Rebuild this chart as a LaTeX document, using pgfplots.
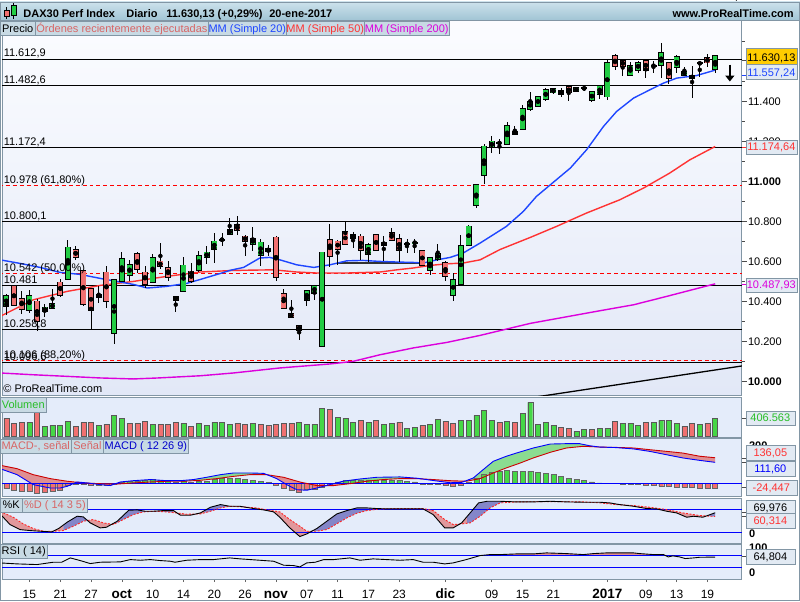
\documentclass[border=0pt]{standalone}
\usepackage{pgfplots}
\usepackage{pgfplotstable}
\pgfplotsset{compat=1.18}
\usepgfplotslibrary{fillbetween}
\usetikzlibrary{arrows.meta}
\usepackage{fontspec}
\setmainfont{Liberation Sans}

\definecolor{cgreen}{RGB}{34,204,68}
\definecolor{cred}{RGB}{240,112,112}
\definecolor{vgreen}{RGB}{70,215,70}
\definecolor{vred}{RGB}{240,112,112}
\definecolor{ma20}{RGB}{30,70,255}
\definecolor{ma50}{RGB}{255,50,50}
\definecolor{ma200}{RGB}{220,0,220}
\definecolor{bgtop}{RGB}{251,252,255}
\definecolor{bgbot}{RGB}{226,232,247}
\definecolor{pbg}{RGB}{228,236,250}
\definecolor{frame}{RGB}{130,150,165}
\definecolor{legbg}{RGB}{200,218,228}
\definecolor{titletop}{RGB}{205,226,236}
\definecolor{titlebot}{RGB}{160,196,212}
\definecolor{boxbg}{RGB}{226,234,243}
\definecolor{gold}{RGB}{255,204,0}
\definecolor{vtxt}{RGB}{40,190,40}
\definecolor{mfillg}{RGB}{110,215,110}
\definecolor{mfillr}{RGB}{222,112,112}
\definecolor{sfillb}{RGB}{100,100,185}
\definecolor{sfillr}{RGB}{225,125,125}
\newcommand\fs{\fontsize{11}{13}\selectfont}

\pgfplotstableread{
k O H L C
-92 10378 10437 10333 10428
-89 10358 10458 10342 10428
-87 10350 10387 10320 10370
-86 10367 10463 10365 10388
-84 10512 10705 10508 10670
-80 10422 10475 10392 10433
-78 10242 10512 10187 10508
-77 10500 10645 10495 10612
-76 10533 10608 10500 10583
-73 10495 10637 10490 10617
-69 10450 10622 10447 10580
-67 10555 10653 10548 10628
-66 10622 10675 10587 10645
-65 10663 10742 10592 10700
-64 10708 10742 10675 10710
-63 10738 10817 10738 10758
-60 10688 10770 10650 10713
-59 10633 10713 10575 10695
-58 10653 10683 10625 10663
-53 10408 10453 10378 10453
-52 10442 10483 10405 10478
-51 10178 10648 10172 10645
-47 10717 10745 10667 10733
-45 10638 10692 10595 10683
-40 10687 10712 10642 10688
-39 10693 10712 10642 10695
-37 10558 10620 10533 10617
-36 10612 10688 10600 10638
-34 10433 10542 10400 10508
-33 10488 10730 10488 10678
-32 10683 10783 10675 10775
-31 10883 10983 10867 10983
-30 11033 11188 10987 11175
-29 11170 11230 11142 11200
-28 11190 11212 11138 11195
-27 11188 11300 11188 11278
-25 11263 11383 11263 11363
-24 11363 11450 11353 11400
-23 11378 11425 11375 11422
-22 11413 11470 11405 11458
-21 11445 11467 11437 11463
-20 11438 11467 11425 11455
-18 11453 11472 11447 11467
-17 11465 11475 11455 11467
-16 11408 11455 11397 11447
-15 11438 11480 11412 11478
-14 11425 11612 11408 11592
-11 11533 11600 11533 11578
-10 11558 11605 11545 11595
-8 11578 11605 11542 11580
-7 11583 11692 11517 11645
-5 11572 11633 11545 11622
-4 11533 11575 11533 11550
-3 11518 11578 11417 11528
-2 11590 11592 11525 11592
0 11563 11628 11542 11630
}\upcandles

\pgfplotstableread{
k O H L C
-91 10475 10478 10375 10383
-90 10412 10450 10337 10363
-88 10400 10413 10253 10300
-85 10495 10513 10420 10433
-83 10658 10675 10608 10622
-82 10553 10558 10375 10387
-81 10463 10463 10263 10358
-79 10545 10575 10367 10403
-75 10638 10645 10542 10562
-74 10545 10575 10467 10488
-72 10600 10692 10563 10575
-71 10567 10600 10500 10520
-70 10423 10423 10345 10408
-68 10550 10592 10492 10500
-62 10783 10825 10733 10755
-61 10725 10733 10628 10703
-57 10720 10728 10503 10522
-56 10438 10462 10365 10367
-55 10338 10405 10322 10322
-54 10278 10283 10208 10255
-50 10708 10788 10570 10628
-49 10700 10708 10580 10663
-48 10747 10797 10688 10688
-46 10725 10737 10608 10658
-44 10733 10737 10650 10658
-43 10695 10725 10600 10683
-42 10743 10767 10703 10708
-41 10713 10738 10595 10658
-38 10653 10653 10580 10583
-35 10592 10600 10500 10528
-26 11250 11278 11230 11238
-19 11472 11483 11403 11445
-13 11628 11637 11558 11578
-12 11605 11612 11528 11578
-9 11605 11605 11517 11558
-6 11592 11592 11488 11517
-1 11617 11638 11575 11595
}\downcandles

\pgfplotstableread{
k v c
-92 406000 0
-91 289000 0
-90 311000 0
-89 311000 1
-88 533000 0
-87 222000 1
-86 244000 1
-85 244000 1
-84 333000 1
-83 222000 0
-82 311000 0
-81 311000 0
-80 244000 1
-79 266000 0
-78 466000 1
-77 400000 1
-76 289000 0
-75 289000 0
-74 333000 0
-73 266000 1
-72 259000 0
-71 266000 0
-70 311000 0
-69 289000 1
-68 222000 0
-67 289000 1
-66 244000 1
-65 311000 1
-64 311000 1
-63 266000 1
-62 289000 0
-61 266000 0
-60 289000 1
-59 259000 0
-58 244000 0
-57 266000 0
-56 289000 0
-55 289000 0
-54 311000 1
-53 266000 1
-52 266000 1
-51 622000 1
-50 592000 0
-49 422000 1
-48 400000 1
-47 311000 1
-46 355000 0
-45 311000 1
-44 355000 0
-43 266000 1
-42 289000 1
-41 311000 0
-40 178000 1
-39 200000 1
-38 244000 0
-37 259000 1
-36 370000 1
-35 333000 0
-34 289000 0
-33 355000 1
-32 355000 1
-31 466000 1
-30 577000 1
-29 355000 1
-28 311000 0
-27 333000 1
-26 311000 0
-25 511000 1
-24 755000 1
-23 266000 1
-22 311000 1
-21 244000 1
-20 200000 0
-19 178000 0
-18 111000 1
-17 155000 1
-16 155000 0
-15 178000 1
-14 178000 1
-13 333000 0
-12 289000 1
-11 289000 1
-10 244000 1
-9 311000 0
-8 311000 1
-7 355000 1
-6 355000 1
-5 289000 1
-4 222000 0
-3 289000 0
-2 266000 1
-1 289000 0
0 406563 1
}\volumes

\pgfplotstableread{
k h
-92 -28
-91 -39
-90 -43
-89 -43
-88 -53
-87 -48
-86 -43
-85 -39
-84 -12
-83 -7
-82 -7
-81 -11
-80 -12
-79 -12
-78 -5
-77 3.5
-76 11
-75 11
-74 14
-73 20
-72 14
-71 11
-70 3.5
-69 11
-68 3.5
-67 9
-66 12
-65 20
-64 25
-63 25
-62 25
-61 20
-60 14
-59 11
-58 5
-57 -12
-56 -28
-55 -39
-54 -48
-53 -34
-52 -34
-51 -21
-50 -12
-49 7
-48 14
-47 18
-46 16
-45 16
-44 18
-43 16
-42 14
-41 16
-40 11
-39 7
-38 -3.5
-37 -7
-36 -7
-35 -11
-34 -16
-33 -12
-32 3.5
-31 25
-30 46
-29 58
-28 64
-27 69
-26 64
-25 64
-24 64
-23 58
-22 53
-21 46
-20 37
-19 28
-18 21
-17 14
-16 7
-15 2
-14 0.5
-13 -2
-12 -3.5
-11 -5
-10 -7
-9 -9
-8 -12
-7 -14
-6 -18
-5 -20
-4 -21
-3 -23
-2 -25
-1 -25
0 -24.447
}\histo

\pgfplotstableread{
k v
-92.8 96
-90.6 78
-88.5 46
-86.3 25
-84.1 11
-82.0 2
-79.8 -2
-77.6 -4
-75.5 2
-73.3 7
-71.2 11
-69.0 11
-66.8 16
-64.7 25
-62.5 37
-60.4 46
-58.2 46
-56.0 32
-53.9 7
-51.7 -12
-49.5 -12
-47.4 -2
-45.2 11
-43.1 20
-40.9 25
-38.7 25
-36.6 20
-34.4 14
-32.3 11
-30.5 25
-28.8 55
-27.1 82
-25.3 108
-23.6 135
-21.4 165
-19.3 188
-17.1 197
-15.0 193
-12.8 191
-10.6 188
-8.5 179
-6.3 170
-4.2 161
-2.0 144
0 136.05
}\sigtab

\pgfplotstableread{
k v
-92.8 78
-90.6 46
-88.5 -7
-86.3 -25
-85.0 -25
-84.1 -16
-82.8 7
-81.5 2
-79.8 -7
-78.5 -12
-77.2 7
-75.5 14
-73.3 20
-71.2 14
-69.4 14
-67.7 20
-66.0 32
-64.2 46
-62.5 55
-60.4 55
-58.6 53
-56.9 25
-55.6 -7
-54.3 -34
-53.0 -37
-51.7 -25
-50.0 -7
-48.3 11
-46.1 23
-43.9 32
-40.9 34
-38.7 27
-36.6 15
-34.4 3
-32.9 5
-31.4 28
-30.1 73
-28.8 117
-27.1 144
-25.8 161
-23.6 188
-21.4 209
-19.3 211
-17.6 211
-16.3 200
-15.0 193
-12.8 190
-10.6 183
-8.5 170
-6.3 152
-4.2 135
-2.0 122
0 111.6
}\macdtab

\pgfplotstableread{
k v
-92.8 74
-91.1 58.3
-89.8 40.9
-88.5 28.8
-87.2 21.8
-85.9 21.8
-84.6 23.5
-83.3 34.8
-82.0 47.9
-80.7 52.3
-79.4 43.6
-78.1 39.2
-76.8 52.3
-75.5 65.3
-74.2 72.3
-72.9 74
-71.2 72.3
-69.9 69.6
-68.6 66.2
-66.8 67
-65.5 74
-64.2 82.7
-63.0 87
-61.2 85.3
-59.5 82.7
-58.2 77.5
-56.5 72.3
-55.2 52.3
-53.9 34.8
-53.0 21.8
-51.7 21.8
-50.4 26.2
-49.5 36.6
-47.8 56.6
-46.5 68.8
-45.2 75.7
-43.5 80.1
-40.9 81
-37.9 81
-36.6 75.7
-35.1 52.3
-34.0 39.2
-32.9 40.9
-31.8 43.6
-30.5 61
-29.2 82.7
-27.9 95.8
-25.8 98.4
-21.4 99.2
-17.1 98.4
-15.0 95.8
-12.8 91.4
-10.6 88.8
-8.5 84.4
-6.3 78.3
-4.2 69.6
-2.0 62.7
0 60.3
}\dtab

\pgfplotstableread{
k v
-92.8 67
-91.5 39
-90.2 26
-88.9 23.5
-87.6 21.8
-86.1 20
-85.2 28.8
-84.1 45.3
-82.8 61
-82.0 59.2
-81.1 43.6
-79.8 30.5
-79.0 32.2
-77.6 47.9
-76.1 76.6
-75.0 77.5
-74.0 74
-72.9 74
-71.6 75.7
-70.3 75.7
-69.4 63.6
-68.1 63.6
-66.8 69.6
-65.5 84.4
-64.2 91.4
-63.0 87
-61.7 87
-59.9 81
-58.6 77.5
-57.3 72.3
-56.5 58.3
-55.2 30.5
-53.9 7.9
-53.0 14.8
-51.7 28.8
-50.4 47.9
-49.1 67
-47.8 75.7
-46.5 82.7
-45.2 82.7
-43.9 81
-42.6 80.1
-40.9 80.1
-37.9 80.1
-36.6 65.3
-35.1 30.5
-34.0 30.5
-32.9 43.6
-31.8 69.6
-30.7 95.8
-29.6 100
-27.9 100
-25.8 98.4
-23.6 98.4
-21.4 100
-19.3 98.4
-17.1 97.5
-15.0 97.5
-13.7 95.8
-12.4 91.4
-10.6 87
-8.9 81
-7.6 80.1
-6.3 74
-5.0 69.6
-3.7 58.3
-2.8 60.9
-1.6 58.3
0 70
}\ktab

\pgfplotstableread{
k v
-92.8 45.5
-90.6 42.2
-88.0 40
-85.9 47.8
-84.8 47.8
-83.7 62.2
-82.4 53.3
-81.1 43.3
-79.8 47.8
-77.2 48.9
-75.9 56.6
-74.6 54.4
-73.3 56.6
-72.0 53.3
-70.7 51.1
-70.1 47.8
-68.6 54.4
-66.8 56.6
-65.1 56.6
-63.0 62.2
-61.6 58.9
-59.1 54.4
-57.3 51.1
-56.0 37.8
-54.7 36.6
-53.9 32.2
-53.0 45.5
-51.9 47.8
-50.8 56.6
-49.5 56.6
-47.4 62.2
-46.1 54.4
-44.4 58.9
-42.6 56.6
-40.9 54.4
-39.2 56.6
-37.9 47.8
-36.6 47.8
-35.1 42.2
-34.0 45.5
-32.3 56.6
-30.5 70
-29.2 73.3
-27.9 73.3
-25.8 75.5
-23.6 75.5
-21.9 78.9
-19.3 76.6
-17.1 73.3
-15.8 76.6
-14.1 78.9
-10.6 78.9
-9.8 76.6
-8.0 73.3
-6.7 73.3
-6.1 65.5
-5.5 68.9
-4.6 65.5
-3.9 60
-2.8 62.2
-2.0 64.4
0 64.8
}\rsitab

\pgfplotsset{
  panel/.style={scale only axis, width=740pt, xmin=-92.52, xmax=3.46,
    axis line style={draw=frame, line width=0.8pt},
    xtick=\empty, ytick=\empty, clip=true,
    axis background/.style={fill=pbg}},
  wick/.style={only marks, mark=none, forget plot,
    error bars/.cd, y dir=both, y explicit, error mark=none,
    error bar style={black, line width=0.9pt}},
  body/.style 2 args={only marks, mark=none, forget plot,
    error bars/.cd, y dir=both, y explicit, error mark=none,
    error bar style={#1, line width=#2}},
  lvl/.style={black, line width=0.8pt, forget plot},
  lvld/.style={red, line width=0.8pt, dash pattern=on 4pt off 3pt, forget plot},
  fb/.style={fill=#1, draw=none, fill opacity=0.75},
}

\begin{document}
\begin{tikzpicture}[x=1pt,y=1pt]
\path (0,0) rectangle (800,600);

% ================= MAIN PRICE PANEL =================
\begin{axis}[panel, at={(2pt,206pt)}, anchor=south west, height=375pt,
  ymin=9930, ymax=11805,
  axis background/.style={shade, top color=bgtop, bottom color=bgbot},
  ytick={10000,10200,10400,10600,10800,11000,11200,11400},
  yticklabels={\textbf{10.000},10.200,10.400,10.600,10.800,\textbf{11.000},11.200,11.400},
  minor ytick={10100,10300,10500,10700,10900,11100,11300,11500,11700},
  ytick pos=right, yticklabel pos=right, tick align=outside,
  major tick length=5pt, minor tick length=3pt,
  tick style={black!70, line width=0.6pt},
  yticklabel style={font=\fs, inner sep=1pt},
]
\addplot[lvl] coordinates {(-93,11612.9) (4,11612.9)};
\addplot[lvl] coordinates {(-93,11482.6) (4,11482.6)};
\addplot[lvl] coordinates {(-93,11172.4) (4,11172.4)};
\addplot[lvl] coordinates {(-93,10800.1) (4,10800.1)};
\addplot[lvl] coordinates {(-93,10481) (4,10481)};
\addplot[lvl] coordinates {(-93,10258.8) (4,10258.8)};
\addplot[lvl] coordinates {(-93,10093) (4,10093)};
\addplot[lvld] coordinates {(-93,10978) (4,10978)};
\addplot[lvld] coordinates {(-93,10542) (4,10542)};
\addplot[lvld] coordinates {(-93,10105) (4,10105)};
\addplot[black, line width=1.3pt] coordinates {(-25.3,9910) (3.46,10077)};
\addplot[ma200, line width=1.4pt, line join=round] coordinates {
(-92.8,10042) (-88.5,10033) (-84.1,10025) (-79.8,10017) (-75.5,10012) (-72.3,10017)
(-66.8,10028) (-62.5,10042) (-56.5,10067) (-50.0,10087) (-47.0,10100) (-43.5,10133)
(-39.2,10167) (-34.8,10195) (-30.5,10230) (-24.0,10290) (-15.0,10353) (-10.6,10383)
(-6.3,10425) (0,10488)};
\addplot[ma50, line width=1.4pt, line join=round] coordinates {
(-92.8,10325) (-88.5,10408) (-84.1,10450) (-79.8,10480) (-75.5,10500) (-71.2,10525)
(-66.8,10547) (-62.5,10555) (-57.3,10558) (-54.3,10547) (-51.7,10542) (-47.8,10542)
(-43.5,10547) (-41.3,10558) (-39.2,10567) (-37.0,10580) (-34.8,10588) (-32.7,10592)
(-30.5,10608) (-27.9,10660) (-24.0,10720) (-20.6,10775) (-16.7,10842) (-12.4,10908)
(-9.3,10967) (-5.9,11042) (-3.3,11108) (0,11175)};
\addplot[black!80, line width=1.6pt] coordinates {(-48.9,10592) (-38.0,10592)};
\addplot[ma20, line width=1.4pt, line join=round] coordinates {
(-92.8,10608) (-90.2,10590) (-87.6,10570) (-85.0,10545) (-82.4,10535) (-79.8,10515)
(-77.2,10497) (-75.5,10485) (-73.7,10467) (-71.2,10475) (-68.6,10490) (-66.8,10510)
(-64.2,10540) (-62.9,10556) (-61.2,10570) (-59.1,10617) (-57.8,10620) (-56.5,10608)
(-54.3,10583) (-52.1,10570) (-50.0,10583) (-47.8,10603) (-45.7,10605) (-43.5,10600)
(-41.3,10597) (-39.2,10595) (-37.9,10592) (-36.1,10608) (-34.4,10620) (-32.7,10642)
(-30.5,10692) (-27.1,10775) (-24.9,10850) (-23.2,10925) (-18.8,11067) (-16.7,11158)
(-14.5,11275) (-12.8,11350) (-10.6,11417) (-8.5,11458) (-6.7,11492) (-5.0,11517)
(-2.4,11530) (0,11557)};
\addplot[wick] table[x=k, y expr={(\thisrow{H}+\thisrow{L})/2}, y error expr={(\thisrow{H}-\thisrow{L})/2}] {\upcandles};
\addplot[wick] table[x=k, y expr={(\thisrow{H}+\thisrow{L})/2}, y error expr={(\thisrow{H}-\thisrow{L})/2}] {\downcandles};
\addplot[body={black}{6pt}] table[x=k, y expr={(\thisrow{O}+\thisrow{C})/2}, y error expr={abs(\thisrow{C}-\thisrow{O})/2+4}] {\upcandles};
\addplot[body={cgreen}{4.4pt}] table[x=k, y expr={(\thisrow{O}+\thisrow{C})/2}, y error expr={abs(\thisrow{C}-\thisrow{O})/2}] {\upcandles};
\addplot[body={black}{6pt}] table[x=k, y expr={(\thisrow{O}+\thisrow{C})/2}, y error expr={abs(\thisrow{C}-\thisrow{O})/2+4}] {\downcandles};
\addplot[body={cred}{4.4pt}] table[x=k, y expr={(\thisrow{O}+\thisrow{C})/2}, y error expr={abs(\thisrow{C}-\thisrow{O})/2}] {\downcandles};
\begin{scope}[every node/.style={font=\fs, anchor=base west, inner sep=0pt, yshift=2pt}]
\node at (axis cs:-92.35,11612.9) {11.612,9};
\node at (axis cs:-92.35,11482.6) {11.482,6};
\node at (axis cs:-92.35,11172.4) {11.172,4};
\node at (axis cs:-92.35,10978) {10.978 (61,80\%)};
\node at (axis cs:-92.35,10800.1) {10.800,1};
\node at (axis cs:-92.35,10542) {10.542 (50,00\%)};
\node at (axis cs:-92.35,10481) {10.481};
\node at (axis cs:-92.35,10258.8) {10.258,8};
\node at (axis cs:-92.35,10105) {10.106 (88,20\%)};
\node at (axis cs:-92.35,10093) {10.096,6};
\end{scope}
\end{axis}

% ================= VOLUME =================
\begin{axis}[panel, at={(2pt,164pt)}, anchor=south west, height=40pt,
  ymin=-22200, ymax=865800]
\addplot[ybar, bar width=5pt, bar shift=0pt, fill=vgreen, draw=black!65, line width=0.4pt,
  restrict expr to domain={\thisrow{c}}{0.5:1.5}] table[x=k, y=v] {\volumes};
\addplot[ybar, bar width=5pt, bar shift=0pt, fill=vred, draw=black!65, line width=0.4pt,
  restrict expr to domain={\thisrow{c}}{-0.5:0.5}] table[x=k, y=v] {\volumes};
\end{axis}

% ================= MACD =================
\begin{axis}[panel, at={(2pt,105pt)}, anchor=south west, height=58pt,
  ymin=-69.1, ymax=239.4]
\addplot[name path=sig, draw=none, forget plot] table[x=k, y=v] {\sigtab};
\addplot[name path=macd, draw=none, forget plot] table[x=k, y=v] {\macdtab};
\addplot[fb=mfillr] fill between[of=macd and sig, soft clip={domain=-92.8:-83.2}];
\addplot[fb=mfillg] fill between[of=macd and sig, soft clip={domain=-83.2:-81}];
\addplot[fb=mfillr] fill between[of=macd and sig, soft clip={domain=-81:-77.4}];
\addplot[fb=mfillg] fill between[of=macd and sig, soft clip={domain=-77.4:-57.3}];
\addplot[fb=mfillr] fill between[of=macd and sig, soft clip={domain=-57.3:-48.8}];
\addplot[fb=mfillg] fill between[of=macd and sig, soft clip={domain=-48.8:-38}];
\addplot[fb=mfillr] fill between[of=macd and sig, soft clip={domain=-38:-31.6}];
\addplot[fb=mfillg] fill between[of=macd and sig, soft clip={domain=-31.6:-15.5}];
\addplot[fb=mfillr] fill between[of=macd and sig, soft clip={domain=-15.5:0}];
\addplot[ybar, bar width=5pt, bar shift=0pt, fill=vgreen, draw=black!60, line width=0.4pt,
  restrict expr to domain={\thisrow{h}}{0:1000}] table[x=k, y=h] {\histo};
\addplot[ybar, bar width=5pt, bar shift=0pt, fill=vred, draw=black!60, line width=0.4pt,
  restrict expr to domain={\thisrow{h}}{-1000:0}] table[x=k, y=h] {\histo};
\addplot[blue, line width=0.9pt] coordinates {(-93,0) (4,0)};
\addplot[red!80!black, line width=0.9pt] table[x=k, y=v] {\sigtab};
\addplot[blue, line width=0.9pt] table[x=k, y=v] {\macdtab};
\end{axis}

% ================= STOCHASTIC =================
\begin{axis}[panel, at={(2pt,58pt)}, anchor=south west, height=45pt,
  ymin=-9.66, ymax=107.8]
\addplot[name path=D, draw=none, forget plot] table[x=k, y=v] {\dtab};
\addplot[name path=K, draw=none, forget plot] table[x=k, y=v] {\ktab};
\addplot[fb=sfillr] fill between[of=K and D, soft clip={domain=-92.8:-84.6}];
\addplot[fb=sfillb] fill between[of=K and D, soft clip={domain=-84.6:-81.3}];
\addplot[fb=sfillr] fill between[of=K and D, soft clip={domain=-81.3:-77.9}];
\addplot[fb=sfillb] fill between[of=K and D, soft clip={domain=-77.9:-70.3}];
\addplot[fb=sfillr] fill between[of=K and D, soft clip={domain=-70.3:-66.3}];
\addplot[fb=sfillb] fill between[of=K and D, soft clip={domain=-66.3:-62.9}];
\addplot[fb=sfillr] fill between[of=K and D, soft clip={domain=-62.9:-52.6}];
\addplot[fb=sfillb] fill between[of=K and D, soft clip={domain=-52.6:-42}];
\addplot[fb=sfillr] fill between[of=K and D, soft clip={domain=-38.5:-32.2}];
\addplot[fb=sfillb] fill between[of=K and D, soft clip={domain=-32.2:-27.5}];
\addplot[fb=sfillr] fill between[of=K and D, soft clip={domain=-14.5:-0.8}];
\addplot[fb=sfillb] fill between[of=K and D, soft clip={domain=-0.8:0}];
\addplot[blue, line width=0.8pt] coordinates {(-93,80) (4,80)};
\addplot[blue, line width=0.8pt] coordinates {(-93,20) (4,20)};
\addplot[red!85, line width=0.9pt, dash pattern=on 2pt off 1.5pt] table[x=k, y=v] {\dtab};
\addplot[black, line width=0.9pt] table[x=k, y=v] {\ktab};
\end{axis}

% ================= RSI =================
\begin{axis}[panel, at={(2pt,22pt)}, anchor=south west, height=35pt,
  ymin=-9, ymax=107.7,
  xtick={-89,-85,-81,-77,-73,-69,-65,-61,-57,-53,-49,-45,-41,-35,-29,-25,-21,-14,-9,-5,-1},
  xticklabels={15,21,27,{\fontsize{13.5}{15}\selectfont\bfseries oct},10,14,20,26,
    {\fontsize{13.5}{15}\selectfont\bfseries nov},07,11,17,23,
    {\fontsize{13.5}{15}\selectfont\bfseries dic},09,15,21,
    {\fontsize{13.5}{15}\selectfont\bfseries 2017},09,13,19},
  xtick pos=bottom, tick align=outside, major tick length=3pt,
  tick style={black!60, line width=0.5pt},
  xticklabel style={font=\fontsize{12}{14}\selectfont, anchor=base, yshift=-16pt},
]
\addplot[name path=r70, draw=none, forget plot] coordinates {(-93,70) (4,70)};
\addplot[name path=rsi, draw=none, forget plot] table[x=k, y=v] {\rsitab};
\addplot[fb=mfillr] fill between[of=rsi and r70, soft clip={domain=-30.5:-6.5}];
\addplot[blue, line width=0.8pt] coordinates {(-93,70) (4,70)};
\addplot[blue, line width=0.8pt] coordinates {(-93,30) (4,30)};
\addplot[black, line width=0.9pt] table[x=k, y=v] {\rsitab};
\end{axis}

% ================= TITLE BAR =================
\shade[top color=titletop, bottom color=titlebot] (0,581) rectangle (800,600);
\draw[frame] (0,581) -- (800,581);
\draw[black, line width=0.6pt] (6.5,582.5) -- (6.5,595);
\draw[black, fill=cred, line width=0.6pt] (4,585) rectangle (9,591);
\draw[black, line width=0.6pt] (13.5,583) -- (13.5,598.5);
\draw[black, fill=cgreen, line width=0.6pt] (11,586) rectangle (16,596);
\begin{scope}[every node/.style={font=\fs\bfseries, anchor=base west, inner sep=0pt}]
\node at (23,584.5) {DAX30 Perf Index};
\node at (126,584.5) {Diario};
\node at (166,584.5) {11.630,13 (+0,29\%)};
\node at (269,584.5) {20-ene-2017};
\node[anchor=base east] at (794,584.5) {www.ProRealTime.com};
\end{scope}

% ================= LEGEND BOXES =================
\tikzset{lb/.style={fill=legbg, draw=frame, line width=0.5pt}}
\begin{scope}[every node/.style={font=\fs, inner sep=0pt, anchor=base}]
\draw[lb] (0,566) rectangle (35,580); \node at (17.5,569.5) {Precio};
\draw[lb] (35.5,566) rectangle (208,580); \node[text=cred!90!black] at (121.7,569.5) {Órdenes recientemente ejecutadas};
\draw[lb] (208.5,566) rectangle (286,580); \node[text=ma20] at (247.2,569.5) {MM (Simple 20)};
\draw[lb] (286.5,566) rectangle (364,580); \node[text=ma50] at (325.2,569.5) {MM (Simple 50)};
\draw[lb] (364.5,566) rectangle (449,580); \node[text=ma200] at (406.7,569.5) {MM (Simple 200)};
\draw[lb] (0,189) rectangle (46,204); \node[text=vtxt] at (23,193) {Volumen};
\draw[lb] (0,148) rectangle (71,162); \node[text=cred!90!black] at (35.5,151.5) {MACD-, señal};
\draw[lb] (71.5,148) rectangle (103,162); \node[text=cred!90!black] at (87.2,151.5) {Señal};
\draw[lb] (103.5,148) rectangle (188,162); \node[text=blue!80!black] at (145.7,151.5) {MACD ( 12 26 9)};
\draw[lb] (0,89) rectangle (22,103); \node at (11,92.5) {\%K};
\draw[lb] (22.5,89) rectangle (87,103); \node[text=cred!90!black] at (54.7,92.5) {\%D ( 14 3 5)};
\draw[lb] (0,43) rectangle (47,57); \node at (23.5,46.5) {RSI ( 14)};
\end{scope}

\node[font=\fs, anchor=base west, inner sep=0pt] at (3,208.5) {© ProRealTime.com};

\draw[black, line width=2pt, -{Triangle[length=6pt,width=9pt]}] (730,537) -- (730,520);

% ================= RIGHT VALUE BOXES =================
\begin{scope}[every node/.style={font=\fs, inner sep=0pt, anchor=base}]
\node[font=\fs\bfseries, anchor=base west] at (749,152) {200};
\node[font=\fs\bfseries, anchor=base west] at (749,49.5) {100};
\draw[black!70, line width=0.6pt] (742,541.5) -- (746,541.5);
\draw[fill=gold, draw=frame] (746,536) rectangle (797,553); \node at (771.5,540.5) {11.630,13};
\draw[ma20, line width=0.6pt] (742,526.5) -- (746,526.5);
\draw[fill=boxbg, draw=frame] (746,522) rectangle (797,537); \node[text=ma20] at (771.5,525.5) {11.557,24};
\draw[ma50, line width=0.6pt] (742,454) -- (746,454);
\draw[fill=boxbg, draw=frame] (746,447) rectangle (797,461); \node[text=ma50] at (771.5,450.5) {11.174,64};
\draw[ma200, line width=0.6pt] (742,317.5) -- (746,317.5);
\draw[fill=boxbg, draw=frame] (746,309) rectangle (797,323); \node[text=ma200] at (771.5,312.5) {10.487,93};
\draw[black!70, line width=0.6pt] (742,183) -- (746,183);
\draw[fill=boxbg, draw=frame] (746,176) rectangle (795,190); \node[text=vtxt] at (770.5,179.5) {406.563};
\draw[black!70, line width=0.6pt] (742,143.5) -- (746,143.5);
\draw[black!70, line width=0.6pt] (742,139) -- (746,139);
\draw[black!70, line width=0.6pt] (742,113.5) -- (746,113.5);
\draw[fill=boxbg, draw=frame] (746,141) rectangle (795,156); \node[text=red!80] at (770.5,144.5) {136,05};
\draw[fill=boxbg, draw=frame] (746,125) rectangle (795,140); \node[text=blue] at (770.5,128.5) {111,60};
\draw[fill=boxbg, draw=frame] (746,106) rectangle (797,121); \node[text=red!80] at (771.5,109.5) {-24,447};
\draw[black!70, line width=0.6pt] (742,88.5) -- (746,88.5);
\draw[black!70, line width=0.6pt] (742,85) -- (746,85);
\draw[fill=boxbg, draw=frame] (746,86) rectangle (795,101); \node at (770.5,89.5) {69,976};
\draw[fill=boxbg, draw=frame] (746,73) rectangle (795,88); \node[text=red!80] at (770.5,76.5) {60,314};
\node[font=\fs\bfseries, anchor=base west] at (749,64) {0};
\draw[black!70, line width=0.6pt] (742,44.5) -- (746,44.5);
\draw[fill=boxbg, draw=frame] (746,37) rectangle (795,52); \node at (770.5,40.5) {64,804};
\node[font=\fs\bfseries, anchor=base west] at (749,25) {0};
\end{scope}

\draw[frame, line width=0.8pt] (0.4,0.4) rectangle (799.6,599.6);
\end{tikzpicture}
\end{document}
